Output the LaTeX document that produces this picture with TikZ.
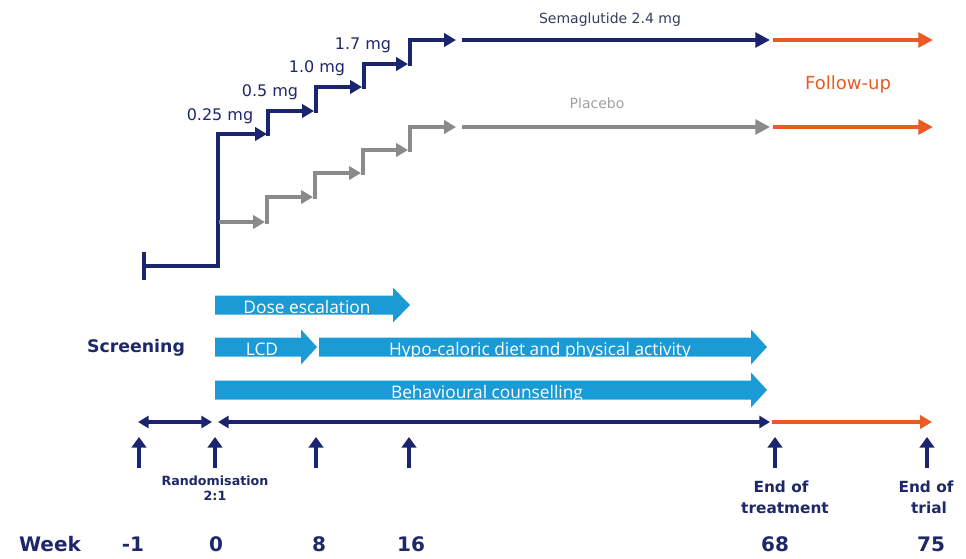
\documentclass[tikz,border=0pt]{standalone}
\usepackage{fontspec}
\setmainfont{DejaVu Sans}
\newfontfamily\barfont{Open Sans}
\usetikzlibrary{arrows.meta}
\definecolor{navy}{RGB}{27,37,110}
\definecolor{navytext}{RGB}{30,40,105}
\definecolor{semtext}{RGB}{55,60,95}
\definecolor{grayline}{RGB}{138,138,138}
\definecolor{graytext}{RGB}{160,160,160}
\definecolor{fuorange}{RGB}{236,90,36}
\definecolor{lblue}{RGB}{27,155,214}
\newcommand\bluebar[4]{%
  \fill[lblue] (#1,#4-9.5) -- (#2,#4-9.5) -- (#2,#4-17.5) -- (#3,#4)
    -- (#2,#4+17.5) -- (#2,#4+9.5) -- (#1,#4+9.5) -- cycle;}
\begin{document}
\begin{tikzpicture}[x=0.75pt,y=-0.75pt,
  stair/.style={line width=3pt,-{Triangle[length=9pt,width=10pt]}},
  armline/.style={line width=3pt,-{Triangle[length=11pt,width=11pt]}},
  tl/.style={navy,line width=2.5pt},
  tickarrow/.style={navy,line width=3.5pt,-{Triangle[length=8pt,width=11pt]}},
  dose/.style={text=navytext,font=\fontsize{12}{14}\selectfont,anchor=base},
  bartext/.style={text=white,font=\barfont\fontsize{13}{15}\selectfont,anchor=base},
  wk/.style={text=navytext,font=\bfseries\fontsize{15}{18}\selectfont,anchor=base},
  ev/.style={text=navytext,font=\bfseries\fontsize{11.5}{14}\selectfont,anchor=base},
  rnd/.style={text=navytext,font=\bfseries\fontsize{9.5}{11}\selectfont,anchor=base}]
\useasboundingbox (0,0) rectangle (966,558);

% ---- Semaglutide staircase ----
\draw[navy,line width=3pt] (144,252) -- (144,280);
\draw[navy,stair] (144,266) -- (218,266) -- (218,134) -- (267,134);
\draw[navy,stair] (268,136) -- (268,111) -- (314,111);
\draw[navy,stair] (316,113) -- (316,87) -- (362,87);
\draw[navy,stair] (364,89) -- (364,64) -- (408,64);
\draw[navy,stair] (410,66) -- (410,40) -- (456,40);
\draw[navy,armline] (462,40) -- (770,40);
\draw[fuorange,armline] (773,40) -- (933,40);

% ---- Placebo staircase ----
\draw[grayline,stair] (219,222) -- (265,222);
\draw[grayline,stair] (267,224) -- (267,197) -- (313,197);
\draw[grayline,stair] (315,199) -- (315,173) -- (361,173);
\draw[grayline,stair] (363,175) -- (363,150) -- (408,150);
\draw[grayline,stair] (410,152) -- (410,127) -- (456,127);
\draw[grayline,armline] (462,127) -- (770,127);
\draw[fuorange,armline] (773,127) -- (933,127);

% ---- dose labels ----
\node[dose] (d1) at (220,120) {0.25 mg};
\node[dose] (d2) at (270,96) {0.5 mg};
\node[dose] (d3) at (317,72) {1.0 mg};
\node[dose] (d4) at (363,49) {1.7 mg};
\node[text=semtext,font=\fontsize{10.5}{12}\selectfont,anchor=base] (sem) at (610,23) {Semaglutide 2.4 mg};
\node[text=graytext,font=\fontsize{10.5}{12}\selectfont,anchor=base] (pla) at (597,108) {Placebo};
\node[text=fuorange,font=\fontsize{13.5}{16}\selectfont,anchor=base] (fu) at (848,89) {Follow-up};

% ---- blue bars ----
\bluebar{215}{393}{410}{305}
\bluebar{215}{301}{317}{347}
\bluebar{319}{751}{767}{347}
\bluebar{215}{751}{767}{390}
\node[bartext] (dosees) at (307,313) {Dose escalation};
\node[bartext] (lcd) at (262,355) {LCD};
\node[bartext] (hypo) at (540,355) {Hypo-caloric diet and physical activity};
\node[bartext] (beh) at (487,398) {Behavioural counselling};

\node[text=navytext,font=\bfseries\fontsize{13}{15}\selectfont,anchor=base] (scr) at (136,352) {Screening};

% ---- timeline ----
\draw[tl,{Triangle[length=8pt,width=9pt]}-{Triangle[length=8pt,width=9pt]}] (138,422) -- (212,422);
\draw[tl,{Triangle[length=8pt,width=9pt]}-{Triangle[length=8pt,width=9pt]}] (218,422) -- (770,422);
\draw[fuorange,line width=2.5pt,-{Triangle[length=9pt,width=10pt]}] (772,422) -- (932,422);

\foreach \xx/\nm in {139/t1,215/t2,316/t3,409/t4,775/t5,927/t6}{
  \coordinate (\nm a) at (\xx,468);
  \coordinate (\nm b) at (\xx,437);
  \draw[tickarrow] (\nm a) -- (\nm b);
}

\node[rnd] (rand1) at (215,485) {Randomisation};
\node[rnd] (rand2) at (215,500) {2:1};
\node[ev] (eot1) at (781,492) {End of};
\node[ev] (eot2) at (785,513) {treatment};
\node[ev] (etr1) at (926,492) {End of};
\node[ev] (etr2) at (929,513) {trial};

% ---- week row ----
\node[wk] (week) at (50,551) {Week};
\node[wk] (w1) at (133,551) {-1};
\node[wk] (w2) at (216,551) {0};
\node[wk] (w3) at (319,551) {8};
\node[wk] (w4) at (411,551) {16};
\node[wk] (w5) at (775,551) {68};
\node[wk] (w6) at (931,551) {75};
\end{tikzpicture}
\end{document}
